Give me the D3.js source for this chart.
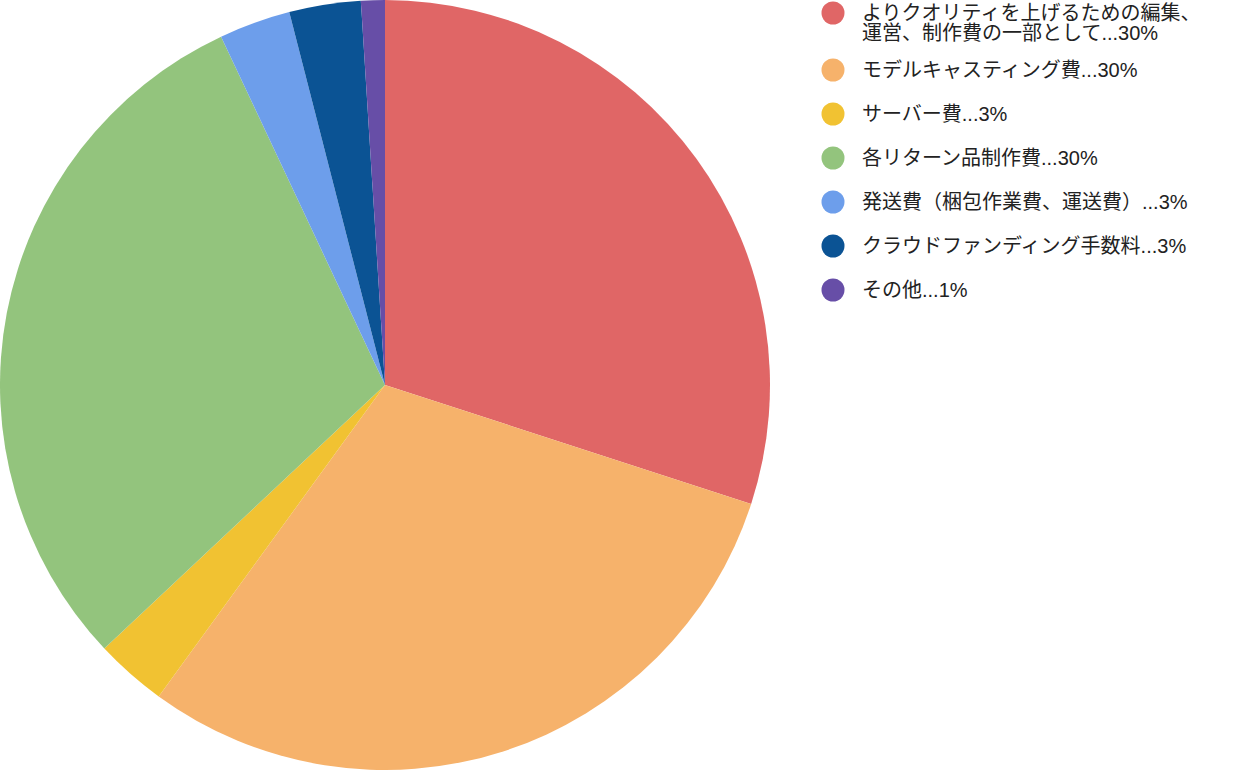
<!DOCTYPE html>
<html>
<head>
<meta charset="utf-8">
<script src="https://cdn.jsdelivr.net/npm/d3@7"></script>
<style>
  html, body { margin: 0; padding: 0; background: #fff; }
  svg { display: block; }
  .legend text { font-family: "Liberation Sans", Arial, "Noto Sans CJK JP", sans-serif; font-size: 20px; fill: #222; }
</style>
</head>
<body>
<svg id="chart" width="1246" height="770"></svg>
<script>
var labels = [
  "よりクオリティを上げるための編集、運営、制作費の一部として",
  "モデルキャスティング費",
  "サーバー費",
  "各リターン品制作費",
  "発送費（梱包作業費、運送費）",
  "クラウドファンディング手数料",
  "その他"
];
var values = [30, 30, 3, 30, 3, 3, 1];
var colors = ["#e06666", "#f6b26b", "#f1c232", "#93c47d", "#6d9eeb", "#0b5394", "#674ea7"];

var svg = d3.select("#chart"),
  cx = 385, cy = 385, radius = 385;

var items = labels.map(function(l, i) { return {label: l, value: values[i]}; });
var total = d3.sum(values);

var color = d3.scaleOrdinal().domain(labels).range(colors);

var pie = d3.pie()
  .sort(null)
  .value(function(d) { return d.value; });

var arc = d3.arc().innerRadius(0).outerRadius(radius);

var g = svg.append("g").attr("transform", "translate(" + cx + "," + cy + ")");

g.selectAll("path")
  .data(pie(items))
  .enter().append("path")
    .attr("d", arc)
    .attr("fill", function(d) { return color(d.data.label); });

//legend
var legend = svg.append("g").attr("class", "legend");
var rowY = 13, lineH = 20, rowGap = 44, maxW = 350;

items.forEach(function(d) {
  var row = legend.append("g");
  row.append("circle")
    .attr("cx", 833).attr("cy", rowY).attr("r", 11.5)
    .attr("fill", color(d.label));

  var full = d.label + "..." + Math.round(d.value / total * 100) + "%";
  var text = row.append("text").attr("x", 862).attr("y", rowY).attr("dy", "0.35em");
  var tspan = text.append("tspan").attr("x", 862);
  var line = "", lines = 1;
  Array.from(full).forEach(function(ch) {
    var test = line + ch;
    tspan.text(test);
    if (tspan.node().getComputedTextLength() > maxW && line.length > 0) {
      tspan.text(line);
      line = ch;
      tspan = text.append("tspan").attr("x", 862).attr("dy", lineH).text(ch);
      lines++;
    } else {
      line = test;
    }
  });
  rowY += rowGap + (lines - 1) * (lineH - 7);
});
</script>
</body>
</html>
